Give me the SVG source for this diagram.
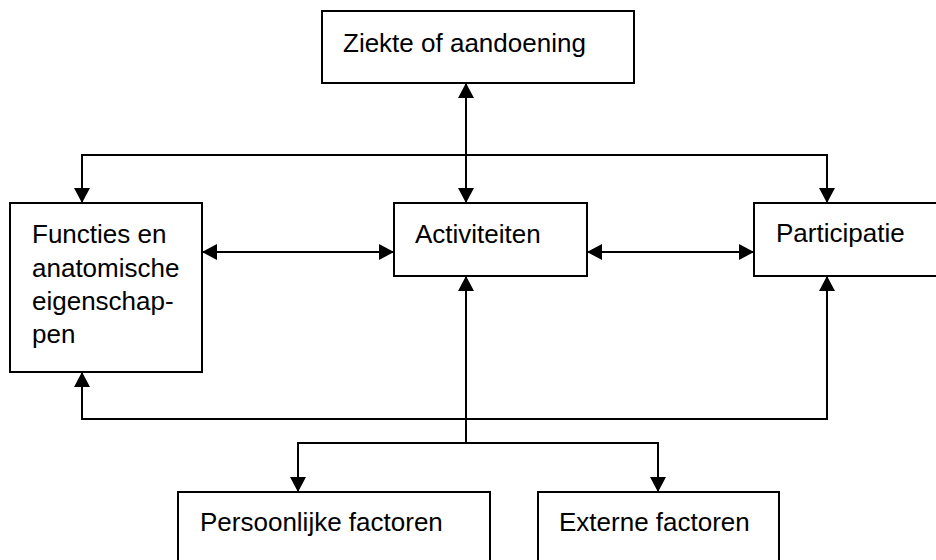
<svg xmlns="http://www.w3.org/2000/svg" width="936" height="560" viewBox="0 0 936 560">
<style>
.box{fill:#fff;stroke:#000;stroke-width:2}
.lbl{font-family:"Liberation Sans",Arial,sans-serif;font-size:26px;fill:#000}
.con{fill:none;stroke:#000;stroke-width:2}
</style>
<defs>
<marker id="ah" viewBox="0 0 15 16" refX="15" refY="8" markerWidth="15" markerHeight="16" markerUnits="userSpaceOnUse" orient="auto-start-reverse">
<path d="M0,0 L15,8 L0,16 z" fill="#000"/>
</marker>
</defs>
<rect width="936" height="560" fill="#fff"/>
<g id="connectors">
<path class="con" d="M466,83 L466,203" marker-start="url(#ah)" marker-end="url(#ah)"/>
<path class="con" d="M82,203 L82,155 L827,155 L827,203" marker-start="url(#ah)" marker-end="url(#ah)"/>
<path class="con" d="M202,252 L394,252" marker-start="url(#ah)" marker-end="url(#ah)"/>
<path class="con" d="M587,252 L754,252" marker-start="url(#ah)" marker-end="url(#ah)"/>
<path class="con" d="M82,372 L82,419 L827,419 L827,276" marker-start="url(#ah)" marker-end="url(#ah)"/>
<path class="con" d="M466,276 L466,443" marker-start="url(#ah)"/>
<path class="con" d="M298,492 L298,443 L658,443 L658,492" marker-start="url(#ah)" marker-end="url(#ah)"/>
</g>
<g id="ziekte">
<rect class="box" x="322" y="11" width="312" height="72"/>
<text class="lbl" x="343" y="52">Ziekte of aandoening</text>
</g>
<g id="functies">
<rect class="box" x="10" y="203" width="192" height="169"/>
<text class="lbl" x="32" y="243">Functies en</text>
<text class="lbl" x="32" y="277">anatomische</text>
<text class="lbl" x="32" y="310">eigenschap-</text>
<text class="lbl" x="32" y="343">pen</text>
</g>
<g id="activiteiten">
<rect class="box" x="394" y="203" width="193" height="73"/>
<text class="lbl" x="415" y="243">Activiteiten</text>
</g>
<g id="participatie">
<rect class="box" x="754" y="203" width="200" height="73"/>
<text class="lbl" x="776" y="242">Participatie</text>
</g>
<g id="persoonlijke">
<rect class="box" x="178" y="492" width="312" height="90"/>
<text class="lbl" x="200" y="531">Persoonlijke factoren</text>
</g>
<g id="externe">
<rect class="box" x="538" y="492" width="241" height="90"/>
<text class="lbl" x="559" y="531">Externe factoren</text>
</g>
</svg>
